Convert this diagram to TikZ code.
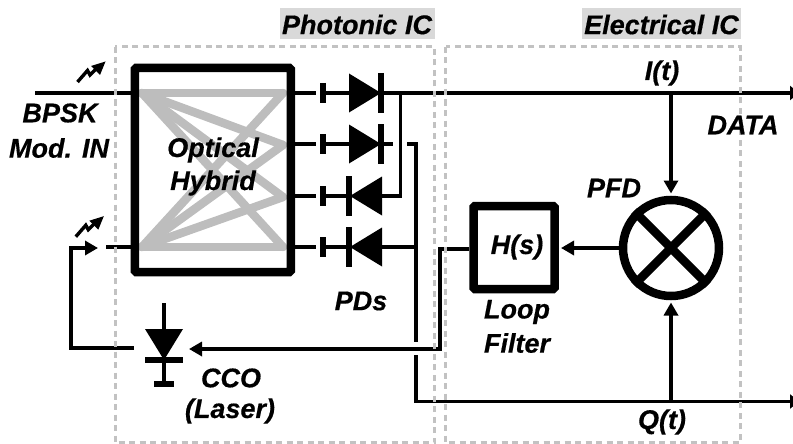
\documentclass[tikz,border=0pt]{standalone}
\usepackage{fontspec}
\setmainfont{Liberation Sans}[BoldItalicFeatures={FakeBold=0.5}]
\usetikzlibrary{arrows.meta}
\tikzset{
  wire/.style={line width=3.4pt,black},
  arr/.style={wire,-{Triangle[length=13pt,width=14pt]}},
  thick box/.style={draw=black,line width=8.5pt,rounded corners=1.5pt,inner sep=0pt},
  graypath/.style={draw=graylight,line width=8.5pt,line cap=round,line join=round},
  region/.style={draw=graydash,line width=3pt,dash pattern=on 6pt off 4.5pt},
  lbl/.style={font=\fontsize{27}{30}\selectfont\bfseries\itshape,inner sep=0pt,align=center,text=black},
  head/.style={lbl,fill=grayhead,inner sep=0pt,text depth=7pt,text height=24pt},
  bar/.style={line width=6.5pt,black},
  diodefill/.style={fill=black,draw=none}
}
\definecolor{graylight}{gray}{0.74}
\definecolor{graydash}{gray}{0.76}
\definecolor{grayhead}{gray}{0.85}
\newcommand{\rightdiode}[1]{%
  \fill[diodefill] (349,#1-19.5) -- (349,#1+19.5) -- (381,#1) -- cycle;
  \draw[bar] (381,#1-20) -- (381,#1+19.5);
  \draw[bar] (323,#1-10) -- (323,#1+10);
}
\newcommand{\leftdiode}[1]{%
  \fill[diodefill] (382,#1-19.5) -- (382,#1+19.5) -- (350,#1) -- cycle;
  \draw[bar] (349,#1-20) -- (349,#1+19.5);
  \draw[bar] (323,#1-10) -- (323,#1+10);
}
\begin{document}
\begin{tikzpicture}[x=1pt,y=-1pt]
\useasboundingbox (0,0) rectangle (793,444);
\clip (0,0) rectangle (793,444);
% coordinates
\coordinate (inL) at (35,93);
\coordinate (TL) at (142,93);
\coordinate (BL) at (142,247);
\coordinate (R1) at (283,93);
\coordinate (R2) at (283,145);
\coordinate (R3) at (283,197);
\coordinate (R4) at (283,247);
\coordinate (out1) at (800,93);
\coordinate (out2) at (800,401.5);
\coordinate (jI) at (671,93);
\coordinate (jQ) at (671,401.5);
% gray hybrid paths
\foreach \a in {TL,BL}\foreach \b in {R1,R2,R3,R4}\draw[graypath] (\a) -- (\b);
% boxes
\node[thick box,minimum width=156pt,minimum height=204pt] (hyb) at (212.75,170) {};
\node[thick box,minimum width=81pt,minimum height=83pt] (hs) at (514,247.5) {};
\node[draw=black,line width=8.5pt,circle,minimum size=96pt,inner sep=0pt] (pfd) at (671,248) {};
\draw[line width=8.5pt] (pfd.45) -- (pfd.225);
\draw[line width=8.5pt] (pfd.135) -- (pfd.315);
% input wires
\draw[wire] (inL) -- (inL -| hyb.west);
\coordinate (in2s) at (106,247);
\draw[wire] (in2s) -- (in2s -| hyb.west);
% output stubs
\foreach \y in {93,144,196,247}{\draw[wire] (295,\y) -- (316,\y);\draw[wire] (326,\y) -- (349,\y);}
\rightdiode{93}
\rightdiode{144}
\leftdiode{196}
\leftdiode{247}
% diode outputs
\coordinate (v1) at (400.5,93);
\coordinate (v2) at (416,144);
\coordinate (v3) at (416,247);
\draw[wire] (384,93) -- (out1);
\draw[wire] (381,144) -- (393,144);
\draw[wire,line join=miter] (382,196) -| (v1);
\draw[wire] (382,247) -- (v3);
\draw[wire,line join=miter] (407,144) -- (v2) -- (416,341.5);
\draw[wire,line join=miter] (416,355) -- (416,401.5) -- (out2);
\draw[-{Triangle[length=9pt,width=14pt]},line width=3.4pt] (770,93) -- (799,93);
\draw[-{Triangle[length=9pt,width=14pt]},line width=3.4pt] (770,401.5) -- (799,401.5);
% PFD
\draw[arr] (jI) -- (pfd.north |- 0,193.5);
\draw[arr] (jQ) -- (671,302.5);
\draw[arr] (pfd.west) -- (561,248);
% loop filter to CCO
\coordinate (k1) at (440,249);
\coordinate (k2) at (440,349);
\draw[wire,line join=miter] (hs.west |- k1) -- (k1) -- (k2) -- (203,349);
\draw[arr] (203,349) -- (189,349);
% CCO laser
\fill[diodefill] (145,329) -- (183,329) -- (164,360) -- cycle;
\draw[bar] (145,360) -- (183,360);
\draw[wire] (164,303) -- (164,381);
\draw[bar] (154,384) -- (174,384);
\coordinate (c1) at (134,348);
\coordinate (c2) at (71,348);
\coordinate (c3) at (71,248);
\draw[wire,line join=miter] (c1) -- (c2) -- (c3) -- (85,248);
\draw[arr] (85,248) -- (98,248);
% light signs
\foreach \dx/\dy in {0/0,-1.7/154.7}{
  \begin{scope}[shift={(\dx,\dy)}]
  \draw[line width=3.4pt] (77.5,82) -- (87.5,70.5) -- (90,75) -- (98,67);
  \fill (105.5,61.5) -- (91,66) -- (100,75) -- cycle;
  \end{scope}
}
% regions
\draw[region] (115,47) rectangle (434.5,442.5);
\draw[region] (445.5,47) rectangle (740,442.5);
% labels
\node[head,minimum width=155pt] (ph) at (357,24) {\strut};
\node[lbl] (pht) at (357,24.5) {Photonic IC};
\node[head,minimum width=159pt] (el) at (661.5,24) {\strut};
\node[lbl] (elt) at (661.5,24.5) {Electrical IC};
\node[lbl] (t1) at (60,113) {BPSK};
\node[lbl] (t2) at (59,148) {Mod. IN};
\node[lbl] (t3) at (213,150) {Optical};
\node[lbl] (t4) at (213,183) {Hybrid};
\node[lbl] (t5) at (361,301) {PDs};
\node[lbl] (t6) at (517,312) {Loop};
\node[lbl] (t7) at (517,343) {Filter};
\node[lbl] (t8) at (517,247) {H(s)};
\node[lbl] (t9) at (614,188) {PFD};
\node[lbl] (t10) at (662,73) {I(t)};
\node[lbl] (t11) at (743,125) {DATA};
\node[lbl] (t12) at (662,422) {Q(t)};
\node[lbl] (t13) at (231,378) {CCO};
\node[lbl] (t14) at (230,411) {(Laser)};
\end{tikzpicture}
\end{document}
